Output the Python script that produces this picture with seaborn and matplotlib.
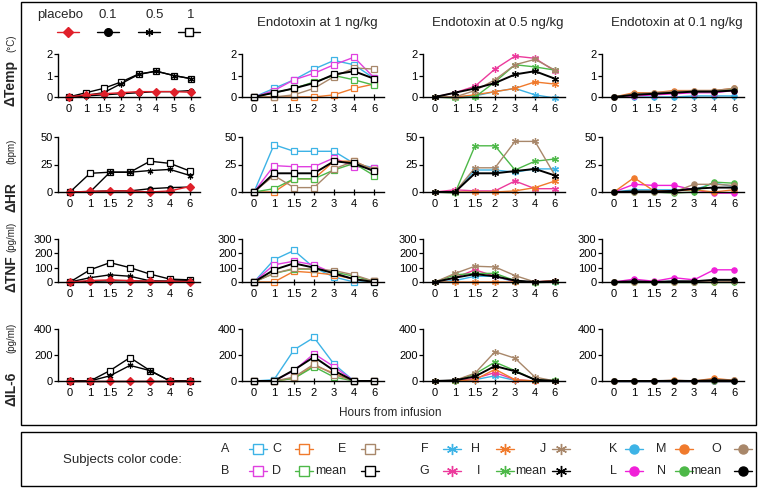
import numpy as np
import matplotlib
matplotlib.use("Agg")
import matplotlib.pyplot as plt
import matplotlib.patches as patches
import seaborn as sns

# x categories (hours from infusion)
hours = ["0", "1", "1.5", "2", "3", "4", "6"]
hours_temp_group = ["0", "1", "1.5", "2", "3", "4", "5", "6"]

measures = ["ΔTemp", "ΔHR", "ΔTNF", "ΔIL-6"]
units = ["(°C)", "(bpm)", "(pg/ml)", "(pg/ml)"]
y_ticks = [[0, 1, 2], [0, 25, 50], [0, 100, 200, 300], [0, 200, 400]]
col_titles = ["", "Endotoxin at 1 ng/kg", "Endotoxin at 0.5 ng/kg", "Endotoxin at 0.1 ng/kg"]

# ---- group means by dose (column 1) ----
group_names = ["1", "0.5", "0.1", "placebo"]
temp_group = {"1": [0, 0.2, 0.4, 0.7, 1.07, 1.2, 1.0, 0.85],
              "0.5": [0, 0.08, 0.2, 0.62, 1.05, 1.2, 1.0, 0.85],
              "0.1": [0, 0.05, 0.1, 0.15, 0.2, 0.25, 0.25, 0.3],
              "placebo": [0, 0.1, 0.15, 0.2, 0.25, 0.25, 0.25, 0.22]}
hr_group = {"1": [0, 17, 18, 18, 28, 26, 19],
            "0.5": [0, 0, 18, 18, 19.5, 20.5, 15],
            "0.1": [0, 0.5, 1, 1, 3, 4, 4.5],
            "placebo": [0, 0.5, 1, 1, 0, 1, 5]}
tnf_group = {"1": [0, 85, 135, 100, 55, 20, 15],
             "0.5": [0, 30, 50, 40, 8, 5, 10],
             "0.1": [0, 5, 8, 8, 5, 5, 5],
             "placebo": [0, 10, 15, 10, 5, 5, 3]}
il6_group = {"1": [0, 0, 80, 180, 80, 0, 0],
             "0.5": [0, 0, 40, 120, 80, 0, 0],
             "0.1": [0, 0, 0, 0, 0, 0, 0],
             "placebo": [0, 0, 0, 0, 0, 0, 0]}

# ---- subjects, 1 ng/kg ----
subj_1ng = ["A", "B", "C", "D", "E", "mean"]
temp_1ng = {"A": [0, 0.4, 0.8, 1.3, 1.7, 1.5, 0.87],
            "B": [0, 0.3, 0.8, 1.1, 1.5, 1.85, 0.9],
            "C": [0, 0, 0, 0, 0.1, 0.4, 0.6],
            "D": [0, 0.2, 0.4, 0.7, 1.0, 0.8, 0.55],
            "E": [0, 0, 0.1, 0.4, 0.95, 1.35, 1.3],
            "mean": [0, 0.2, 0.4, 0.65, 1.05, 1.2, 0.85]}
hr_1ng = {"A": [0, 43, 37, 37, 37, 26, 22],
          "B": [0, 24, 23, 23, 31, 23, 22],
          "C": [0, 0, 12, 12, 28, 28, 20],
          "D": [0, 3, 12, 12, 20, 26, 15],
          "E": [0, 15, 4, 4, 21, 28, 20],
          "mean": [0, 17, 17, 17, 28, 26, 19]}
tnf_1ng = {"A": [0, 155, 220, 100, 35, 0, 0],
           "B": [0, 120, 145, 120, 60, 20, 5],
           "C": [0, 0, 75, 65, 50, 20, 5],
           "D": [0, 60, 90, 90, 70, 40, 5],
           "E": [0, 60, 95, 90, 80, 50, 5],
           "mean": [0, 85, 130, 100, 60, 20, 0]}
il6_1ng = {"A": [0, 10, 240, 335, 130, 0, 0],
           "B": [0, 0, 80, 210, 110, 0, 0],
           "C": [0, 0, 20, 120, 60, 0, 0],
           "D": [0, 0, 20, 110, 30, 0, 0],
           "E": [0, 0, 30, 130, 50, 0, 0],
           "mean": [0, 0, 85, 185, 80, 0, 0]}

# ---- subjects, 0.5 ng/kg ----
subj_05ng = ["F", "G", "H", "I", "J", "mean"]
temp_05ng = {"F": [0, 0, 0.05, 0.25, 0.4, 0.1, -0.05],
             "G": [0, 0.2, 0.5, 1.3, 1.9, 1.8, 1.2],
             "H": [0, 0, 0.1, 0.25, 0.4, 0.7, 0.6],
             "I": [0, -0.05, 0, 0.7, 1.5, 1.4, 1.25],
             "J": [0, 0, 0.3, 0.8, 1.5, 1.75, 1.25],
             "mean": [0, 0.2, 0.4, 0.65, 1.05, 1.2, 0.85]}
hr_05ng = {"F": [0, 0, 20, 20, 18, 21, 21],
           "G": [0, 2, 1, 1, 10, 3, 3],
           "H": [0, 0, 0, 0, 1, 4, 10],
           "I": [0, -1, 42, 42, 20, 28, 30],
           "J": [0, 0, 22, 22, 46, 46, 15],
           "mean": [0, 0, 17, 17, 19, 21, 15]}
tnf_05ng = {"F": [0, 10, 40, 40, 0, 0, 0],
            "G": [0, 30, 85, 40, 5, 0, 10],
            "H": [0, 0, 0, 0, 0, 0, 10],
            "I": [0, 50, 60, 60, 10, -5, 0],
            "J": [0, 60, 110, 105, 45, 0, 5],
            "mean": [0, 30, 55, 40, 10, 0, 5]}
il6_05ng = {"F": [0, 0, 10, 40, 5, 0, 0],
            "G": [0, 0, 20, 65, 10, 0, 0],
            "H": [0, 0, 10, 90, 10, 0, 0],
            "I": [0, 0, 55, 145, 80, 10, 5],
            "J": [0, 5, 60, 225, 175, 30, 0],
            "mean": [0, 5, 35, 115, 75, 10, 0]}

# ---- subjects, 0.1 ng/kg ----
subj_01ng = ["K", "L", "M", "N", "O", "mean"]
temp_01ng = {"K": [0, 0, 0, 0, 0.05, 0.05, 0.05],
             "L": [0, 0.05, 0.1, 0.15, 0.2, 0.2, 0.3],
             "M": [0, 0.2, 0.2, 0.3, 0.3, 0.3, 0.4],
             "N": [0, 0.1, 0.15, 0.2, 0.25, 0.25, 0.35],
             "O": [0, 0.15, 0.2, 0.25, 0.3, 0.3, 0.4],
             "mean": [0, 0.1, 0.15, 0.2, 0.25, 0.25, 0.3]}
hr_01ng = {"K": [0, 2, 2, 2, 2, 8, 5],
           "L": [0, 7, 6, 6, 2, -1, -1],
           "M": [0, 13, 1, 1, 2, 0, 2],
           "N": [0, 0, 0, -1, 0, 9, 8],
           "O": [0, 0, 0, 0, 7, 7, 6],
           "mean": [0, 0.5, 0.5, 1, 3, 4, 4]}
tnf_01ng = {"K": [0, 5, 0, 5, 0, 5, 5],
            "L": [0, 20, 5, 30, 15, 85, 85],
            "M": [0, 0, 0, 0, 0, 0, 5],
            "N": [0, 0, 0, 0, 0, 0, 0],
            "O": [0, 0, 0, 0, 0, 5, 5],
            "mean": [0, 5, 0, 5, 5, 15, 15]}
il6_01ng = {"K": [0, 0, 0, 0, 0, 0, 0],
            "L": [0, 0, 0, 0, 0, 0, 0],
            "M": [0, 0, 0, 5, 0, 20, 5],
            "N": [0, 0, 0, 0, 0, 0, 0],
            "O": [0, 0, 0, 0, 0, 10, 5],
            "mean": [0, 0, 0, 2, 0, 5, 2]}

# colours
BLUE, MAG, PINK, ORANGE, GREEN, TAN = "#3DB3E6", "#E040E0", "#EC3A9C", "#F07A2C", "#4DB848", "#A8876A"
RED = "#E0202A"
subject_colors = {"A": BLUE, "B": MAG, "C": ORANGE, "D": GREEN, "E": TAN,
                  "F": BLUE, "G": PINK, "H": ORANGE, "I": GREEN, "J": TAN,
                  "K": BLUE, "L": "#F020D8", "M": ORANGE, "N": GREEN, "O": TAN,
                  "mean": "black"}
ASTER = (6, 2, 0)
group_style = {"placebo": dict(color=RED, marker="D", face=RED),
               "0.1": dict(color="black", marker="o", face="black"),
               "0.5": dict(color="black", marker=ASTER, face="black"),
               "1": dict(color="black", marker="s", face="white")}
col_marker = {1: ("s", "white"), 2: (ASTER, None), 3: ("o", None)}

sns.set_theme(style="white")
plt.rcParams["font.family"] = ["Liberation Sans", "DejaVu Sans"]

W, H = 759, 488
fig = plt.figure(figsize=(W / 100, H / 100), dpi=100)


def fx(px):
    return px / W


def fy(py):
    return 1 - py / H


def draw_series(ax, values, color, marker, face, lw=1.0, ms=4.0):
    x = np.arange(len(values))
    sns.lineplot(x=x, y=values, ax=ax, color=color, linewidth=lw, marker=marker,
                 markersize=ms, markerfacecolor=face if face else color,
                 markeredgecolor=color, markeredgewidth=0.9, clip_on=False,
                 sort=False, estimator=None)


col_left = [58, 242, 423, 602]
row_zero = [97, 192, 282, 381]
row_top = [54, 137, 239, 329]
ax_w = 142

panels = [[temp_group, temp_1ng, temp_05ng, temp_01ng],
          [hr_group, hr_1ng, hr_05ng, hr_01ng],
          [tnf_group, tnf_1ng, tnf_05ng, tnf_01ng],
          [il6_group, il6_1ng, il6_05ng, il6_01ng]]
subjects = [group_names, subj_1ng, subj_05ng, subj_01ng]

for r in range(4):
    for c in range(4):
        data = panels[r][c]
        ax = fig.add_axes([fx(col_left[c]), fy(row_zero[r]), fx(ax_w),
                           (row_zero[r] - row_top[r]) / H])
        ax.set_facecolor("none")
        top = y_ticks[r][-1]
        labels = hours_temp_group if (r == 0 and c == 0) else hours
        for name in subjects[c]:
            vals = data[name]
            if c == 0:
                st = group_style[name]
                ms = 3.6 if name in ("placebo", "0.1") else 4.2
                draw_series(ax, vals, st["color"], st["marker"], st["face"], ms=ms)
            else:
                mk, face = col_marker[c]
                lw = 1.4 if name == "mean" else 1.0
                ms = {1: 3.8, 2: 5.0, 3: 3.8}[c]
                draw_series(ax, vals, subject_colors[name], mk, face, lw=lw, ms=ms)
        n = len(labels)
        ax.set_xlim(-0.6, n - 0.5)
        ax.set_ylim(0, top)
        ax.set_xticks(np.arange(n))
        ax.set_xticklabels(labels)
        ax.set_yticks(y_ticks[r])
        ax.set_xlabel("")
        ax.set_ylabel("")
        sns.despine(ax=ax)
        ax.spines["left"].set_bounds(0, top)
        for s in ("left", "bottom"):
            ax.spines[s].set_color("black")
            ax.spines[s].set_linewidth(1.0)
        ax.tick_params(axis="x", direction="inout", length=4, width=0.9, pad=3,
                       labelsize=8, colors="black", bottom=True)
        ax.tick_params(axis="y", direction="out", length=3, width=0.9, pad=1,
                       labelsize=8, colors="black", left=True)
        ax.grid(False)

# column titles
for c, title in enumerate(col_titles):
    if title:
        fig.text(fx(col_left[c] + 75), fy(23), title, ha="center", va="center", fontsize=9.5)

# y labels
label_x = 11
name_y = [83, 197, 274, 389]
unit_y = [43, 151, 237, 338]
for r in range(4):
    fig.text(fx(label_x), fy(name_y[r]), measures[r], rotation=90, ha="center",
             va="center", fontsize=10, fontweight="bold")
    fig.text(fx(label_x), fy(unit_y[r]), units[r], rotation=90, ha="center",
             va="center", fontsize=7)

fig.text(fx(390), fy(413), "Hours from infusion", ha="center", va="center", fontsize=8.5)

# overlay axes in pixel coordinates for frames and legends
ov = fig.add_axes([0, 0, 1, 1])
ov.set_xlim(0, W)
ov.set_ylim(H, 0)
ov.axis("off")
ov.set_facecolor("none")
ov.add_patch(patches.Rectangle((21, 2), 735, 423, fill=False, lw=1.0, ec="black"))
ov.add_patch(patches.Rectangle((21, 432), 735, 54, fill=False, lw=1.0, ec="black"))

# dose legend (top left)
dose_text_x = {"placebo": 60, "0.1": 108, "0.5": 155, "1": 191}
dose_mark_x = {"placebo": 68, "0.1": 108, "0.5": 149, "1": 189}
for name in ["placebo", "0.1", "0.5", "1"]:
    st = group_style[name]
    ov.text(dose_text_x[name], 15, name, ha="center", va="center", fontsize=9.5)
    mx = dose_mark_x[name]
    ov.plot([mx - 11, mx + 11], [32, 32], color=st["color"], lw=1.0)
    ov.plot([mx], [32], color=st["color"], marker=st["marker"], ms=5.5,
            mfc=st["face"], mec=st["color"], mew=1.0)

# subject colour legend (bottom)
ov.text(122, 460, "Subjects color code:", ha="center", va="center", fontsize=9.5)
legend_cols = [(229, 258, ["A", "B"], 1), (281, 304, ["C", "D"], 1), (346, 370, ["E", "mean"], 1),
               (429, 452, ["F", "G"], 2), (480, 505, ["H", "I"], 2), (546, 561, ["J", "mean"], 2),
               (617, 634, ["K", "L"], 3), (666, 684, ["M", "N"], 3), (721, 743, ["O", "mean"], 3)]
legend_rows = [449, 471]
for text_x, mark_x, names, grp in legend_cols:
    mk, face = col_marker[grp]
    for name, yy in zip(names, legend_rows):
        col = subject_colors[name]
        ov.text(text_x, yy, name, ha="right", va="center", fontsize=9)
        ov.plot([mark_x - 9, mark_x + 9], [yy, yy], color=col, lw=1.0)
        ov.plot([mark_x], [yy], color=col, marker=mk, ms=8 if grp == 2 else 6.5,
                mfc=face if face else col, mec=col, mew=1.0)

fig.savefig("out.png", dpi=100)
